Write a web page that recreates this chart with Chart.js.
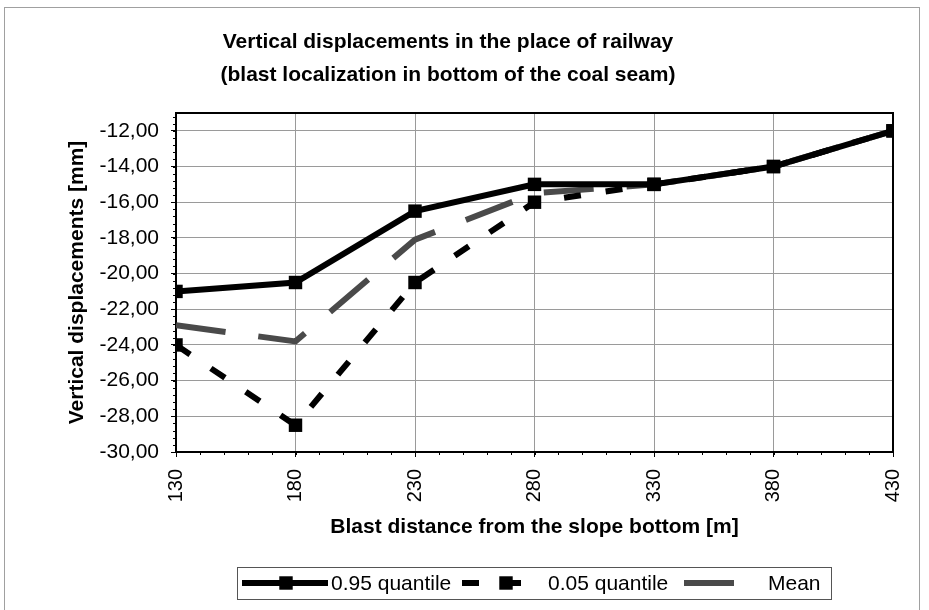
<!DOCTYPE html>
<html>
<head>
<meta charset="utf-8">
<title>Vertical displacements in the place of railway</title>
<script src="https://cdn.jsdelivr.net/npm/chart.js@4.4.1/dist/chart.umd.min.js"></script>
<style>
  html, body { margin: 0; padding: 0; background: #fff; }
  #wrap { width: 929px; height: 610px; }
</style>
</head>
<body>
<div id="wrap"><canvas id="chart" width="929" height="610"></canvas></div>
<script>
// blast distance [m] and displacements [mm]
const distances = [130, 180, 230, 280, 330, 380, 430];
const quantile95 = [-21.0, -20.5, -16.5, -15.0, -15.0, -14.0, -12.0];
const quantile05 = [-24.0, -28.5, -20.5, -16.0, -15.0, -14.0, -12.0];
const meanValues = [-22.9, -23.8, -18.1, -15.5, -15.0, -14.0, -12.0];
const seriesNames = ['0.95 quantile', '0.05 quantile', 'Mean'];
const xTicks = [130, 180, 230, 280, 330, 380, 430];
const yTicks = [-30, -28, -26, -24, -22, -20, -18, -16, -14, -12];

const FONT = "'Liberation Sans', Arial, sans-serif";
Chart.defaults.font.family = FONT;
Chart.defaults.color = '#000';

function toPoints(values) {
    return distances.map((d, i) => ({ x: d, y: values[i] }));
}

function formatComma(v) {
    return v.toFixed(2).replace('.', ',');
}

// white page, thin outer frame, top/right plot border, minor ticks
const framePlugin = {
    id: 'frame',
    beforeDraw(chart) {
        const {ctx} = chart;
        ctx.save();
        ctx.fillStyle = '#fff';
        ctx.fillRect(0, 0, chart.width, chart.height);
        ctx.strokeStyle = '#a0a0a0';
        ctx.lineWidth = 1;
        ctx.strokeRect(4.5, 7.5, 915, 640);
        ctx.restore();
    },
    beforeDatasetsDraw(chart) {
        const {ctx, chartArea} = chart;
        const xs = chart.scales.x;
        const ys = chart.scales.y;
        ctx.save();
        ctx.strokeStyle = '#000';
        ctx.lineWidth = 1;
        ctx.beginPath();
        for (let i = 0; i <= 30; i++) {
            const px = Math.round(xs.getPixelForValue(130 + i * 10)) + 0.5;
            ctx.moveTo(px, chartArea.bottom);
            ctx.lineTo(px, chartArea.bottom + 3);
        }
        for (let i = 0; i <= 47; i++) {
            const py = Math.round(ys.getPixelForValue(-30 + i * 0.4)) + 0.5;
            ctx.moveTo(chartArea.left - 3, py);
            ctx.lineTo(chartArea.left, py);
        }
        ctx.stroke();
        ctx.lineWidth = 2;
        ctx.strokeRect(chartArea.left, chartArea.top, chartArea.right - chartArea.left, chartArea.bottom - chartArea.top);
        ctx.restore();
    }
};

// legend box with line samples, drawn under the axis title
const legendPlugin = {
    id: 'boxLegend',
    afterDraw(chart) {
        const {ctx} = chart;
        const items = [
            { x0: 242, x1: 328, mx: 286, tx: 331 },
            { x0: 462, x1: 528, mx: 506, tx: 548 },
            { x0: 684, x1: 736, mx: null, tx: 768 }
        ];
        const cy = 583;
        ctx.save();
        ctx.strokeStyle = '#555';
        ctx.lineWidth = 1;
        ctx.strokeRect(237.5, 567.5, 594, 32);
        chart.data.datasets.forEach((ds, i) => {
            const it = items[i];
            ctx.save();
            ctx.strokeStyle = ds.borderColor;
            ctx.lineWidth = ds.borderWidth;
            ctx.setLineDash(ds.borderDash || []);
            ctx.beginPath();
            ctx.moveTo(it.x0, cy);
            ctx.lineTo(it.x1, cy);
            ctx.stroke();
            ctx.restore();
            if (it.mx !== null && ds.pointRadius > 0) {
                const s = Math.SQRT1_2 * ds.pointRadius;
                ctx.fillStyle = ds.pointBackgroundColor;
                ctx.fillRect(it.mx - s, cy - s, 2 * s, 2 * s);
            }
            ctx.fillStyle = '#000';
            ctx.font = '21px ' + FONT;
            ctx.textAlign = 'left';
            ctx.textBaseline = 'middle';
            ctx.fillText(ds.label, it.tx, cy + 1);
        });
        ctx.restore();
    }
};

new Chart(document.getElementById('chart'), {
    type: 'line',
    data: {
        datasets: [{
            label: seriesNames[0],
            data: toPoints(quantile95),
            borderColor: '#000',
            borderWidth: 6,
            pointStyle: 'rect',
            pointRadius: 9.5,
            pointBackgroundColor: '#000',
            pointBorderWidth: 0
        }, {
            label: seriesNames[1],
            data: toPoints(quantile05),
            borderColor: '#000',
            borderWidth: 6,
            borderDash: [17, 25],
            pointStyle: 'rect',
            pointRadius: 9.5,
            pointBackgroundColor: '#000',
            pointBorderWidth: 0
        }, {
            label: seriesNames[2],
            data: toPoints(meanValues),
            borderColor: '#4a4a4a',
            borderWidth: 6,
            borderDash: [50, 33],
            pointRadius: 0
        }]
    },
    options: {
        responsive: false,
        animation: false,
        devicePixelRatio: 1,
        layout: { padding: { left: 0, right: 33, top: 0, bottom: 63 } },
        elements: { line: { tension: 0, borderCapStyle: 'butt', fill: false } },
        plugins: {
            legend: { display: false },
            tooltip: { enabled: false },
            title: {
                display: true,
                text: ['Vertical displacements in the place of railway',
                       '(blast localization in bottom of the coal seam)'],
                color: '#000',
                font: { size: 21, weight: 'bold', lineHeight: 33 / 21 },
                padding: { top: 25.5, bottom: 21.5 }
            }
        },
        scales: {
            x: {
                type: 'linear',
                min: 130,
                max: 430,
                afterBuildTicks(scale) {
                    scale.ticks = xTicks.map(v => ({ value: v }));
                },
                afterFit(scale) { scale.height = 95; },
                ticks: {
                    autoSkip: false,
                    minRotation: 90,
                    maxRotation: 90,
                    padding: 12,
                    color: '#000',
                    font: { size: 20 }
                },
                grid: { color: '#9a9a9a', lineWidth: 1, tickColor: '#000', tickLength: 5 },
                border: { color: '#000', width: 2 },
                title: {
                    display: true,
                    text: 'Blast distance from the slope bottom [m]',
                    color: '#000',
                    font: { size: 21, weight: 'bold' },
                    padding: { top: 0, bottom: 7 }
                }
            },
            y: {
                type: 'linear',
                min: -30,
                max: -11,
                afterBuildTicks(scale) {
                    scale.ticks = yTicks.map(v => ({ value: v }));
                },
                afterFit(scale) { scale.width = 176; },
                ticks: {
                    padding: 12,
                    color: '#000',
                    font: { size: 21 },
                    callback: function(value) {
                        return formatComma(value);
                    }
                },
                grid: { color: '#9a9a9a', lineWidth: 1, tickColor: '#000', tickLength: 5 },
                border: { color: '#000', width: 2 },
                title: {
                    display: true,
                    text: 'Vertical displacements [mm]',
                    color: '#000',
                    font: { size: 21, weight: 'bold' },
                    padding: { top: 65, bottom: 0 }
                }
            }
        }
    },
    plugins: [framePlugin, legendPlugin]
});
</script>
</body>
</html>
